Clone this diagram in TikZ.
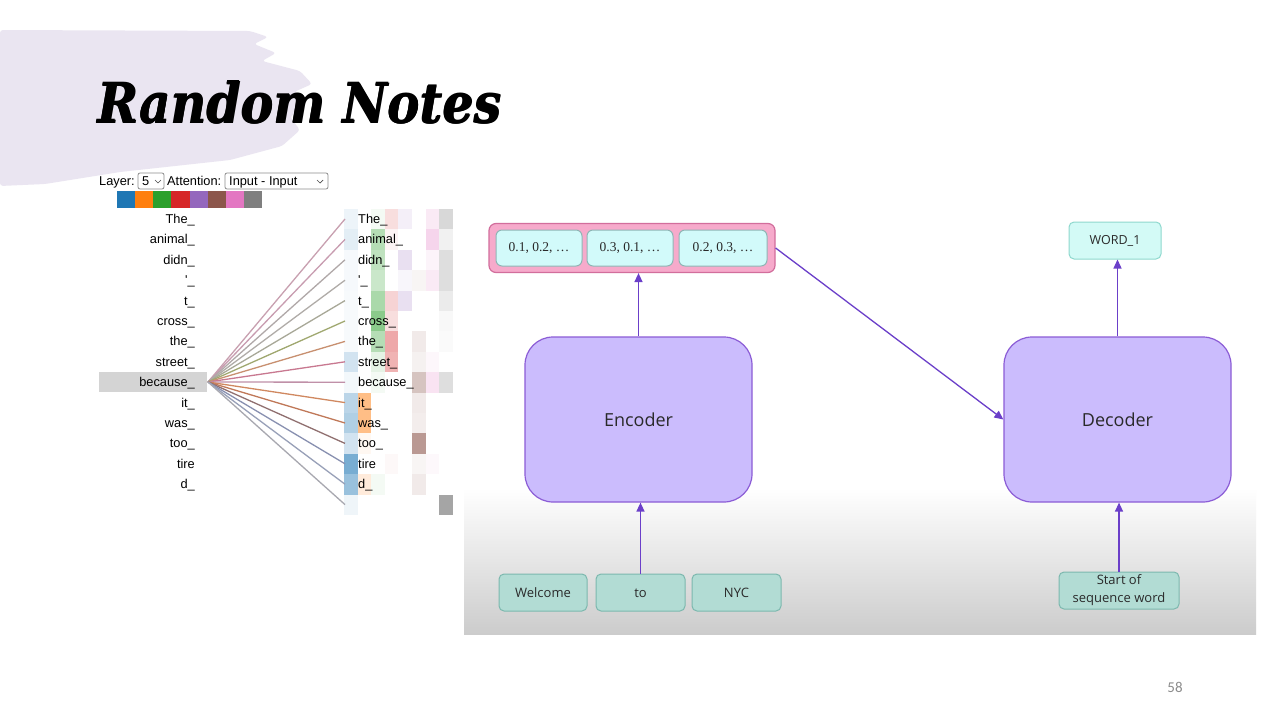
\documentclass[tikz,border=0pt]{standalone}
\usepackage{fontspec}
\usepackage{graphicx}
\setmainfont{Liberation Sans}
\newfontfamily\arialf{Liberation Sans}
\newfontfamily\humf{Open Sans}
\newfontfamily\serf{Liberation Serif}
\newfontfamily\titlef{DejaVu Serif}
\newfontfamily\pagef{Carlito}
\usetikzlibrary{arrows.meta}
\definecolor{brush}{HTML}{EAE5F1}
\definecolor{hc0}{HTML}{1F77B4}
\definecolor{hc1}{HTML}{FF7F0E}
\definecolor{hc2}{HTML}{2CA02C}
\definecolor{hc3}{HTML}{D62728}
\definecolor{hc4}{HTML}{9467BD}
\definecolor{hc5}{HTML}{8C564B}
\definecolor{hc6}{HTML}{E377C2}
\definecolor{hc7}{HTML}{7F7F7F}
\definecolor{ln0}{HTML}{C8A0B0}
\definecolor{ln1}{HTML}{C89CB0}
\definecolor{ln2}{HTML}{B0A8A8}
\definecolor{ln3}{HTML}{B0ACA8}
\definecolor{ln4}{HTML}{A8A898}
\definecolor{ln5}{HTML}{A0A870}
\definecolor{ln6}{HTML}{C89070}
\definecolor{ln7}{HTML}{C87890}
\definecolor{ln8}{HTML}{C090A8}
\definecolor{ln9}{HTML}{D08860}
\definecolor{ln10}{HTML}{C07858}
\definecolor{ln11}{HTML}{907070}
\definecolor{ln12}{HTML}{8890B0}
\definecolor{ln13}{HTML}{98A0B8}
\definecolor{ln14}{HTML}{A8A8B0}
\definecolor{encfill}{HTML}{CBBCFD}
\definecolor{encdraw}{HTML}{8B5CD6}
\definecolor{arrowc}{HTML}{6B3FC9}
\definecolor{contfill}{HTML}{F6AACB}
\definecolor{contdraw}{HTML}{D26E9C}
\definecolor{embfill}{HTML}{D2FAFA}
\definecolor{embdraw}{HTML}{8FB5B5}
\definecolor{wordfill}{HTML}{D3FAF6}
\definecolor{worddraw}{HTML}{8ED8CE}
\definecolor{infill}{HTML}{B2DCD4}
\definecolor{indraw}{HTML}{7CB8AE}
\definecolor{txtc}{HTML}{2A2A2A}
\tikzset{
  tok/.style={font=\arialf\fontsize{12.8}{14}\selectfont, inner sep=0pt, text height=9pt, text depth=0pt},
  attl/.style={line width=1.3pt},
  bigbox/.style={draw=encdraw, fill=encfill, line width=1.2pt, rounded corners=28pt,
     minimum width=227pt, minimum height=165pt, inner sep=0pt,
     font=\humf\fontsize{18}{20}\selectfont, text=txtc},
  embbox/.style={draw=embdraw, fill=embfill, line width=1pt, rounded corners=6pt,
     minimum height=36pt, inner sep=0pt, font=\serf\fontsize{13.5}{15}\selectfont, text=txtc},
  inbox/.style={draw=indraw, fill=infill, line width=1pt, rounded corners=5pt,
     minimum height=37pt, inner sep=0pt, font=\humf\fontsize{13}{15}\selectfont, text=txtc,
     align=center},
  inone/.style={inbox, text height=9.5pt, text depth=0pt},
  arr/.style={draw=arrowc, line width=1.3pt, -{Triangle[length=9pt,width=8pt]}},
  ddbox/.style={draw=black!45, fill=white, rounded corners=2pt, line width=0.8pt},
  ttl/.style={anchor=base west, inner sep=0pt},
}
\newcommand{\ttltext}{\resizebox{404pt}{42pt}{\titlef\bfseries\itshape Random Notes}}
\begin{document}
\begin{tikzpicture}[x=1pt,y=-1pt]
\useasboundingbox (0,0) rectangle (1280,720);
\fill[white] (0,0) rectangle (1280,720);
% brush stroke
\fill[brush, rounded corners=3pt] (0,30) -- (250,31) -- (268,37) -- (254,44) -- (276,53) -- (262,61)
  -- (300,71) -- (312,84) -- (294,92) -- (306,104) -- (290,117) -- (300,130) -- (282,146)
  -- (230,160) -- (120,172) -- (45,184) -- (0,186) -- cycle;
% title (emboldened by overprinting)
\node[ttl] (title) at (97,123) {\ttltext};
\node[ttl] (titleb) at (97.8,123) {\ttltext};
\node[ttl] (titlec) at (97.4,122.6) {\ttltext};

% ---------- left attention panel ----------
\node[tok, anchor=west] (layerlbl) at (99,181) {Layer:};
\draw[ddbox] (138,173) rectangle (164,189);
\node[tok, anchor=west] (layerval) at (142,181) {5};
\draw[black!70, line width=0.7pt] (155,180) -- (158,183) -- (161,180);
\node[tok, anchor=west] (attlbl) at (167,181) {Attention:};
\draw[ddbox] (225,173) rectangle (328,189);
\node[tok, anchor=west] (attval) at (229,181) {Input - Input};
\draw[black!70, line width=0.7pt] (317,180) -- (320,183) -- (323,180);
\foreach \k in {0,...,7} {
  \fill[hc\k] ({117.3+18.05*\k},190.7) rectangle ++(18.05,17);
}
% highlight
\fill[black!17] (99,372) rectangle (207,392);
% heatmap
\foreach \c/\r/\v in {
 0/0/0.08, 0/1/0.12, 0/2/0.04, 0/3/0.04, 0/4/0.03, 0/5/0.03, 0/6/0.03, 0/7/0.2, 0/8/0.05,
 0/9/0.3, 0/10/0.35, 0/11/0.2, 0/12/0.6, 0/13/0.45, 0/14/0.07,
 1/9/0.5, 1/10/0.5, 1/13/0.15, 1/11/0.05,
 2/0/0.05, 2/1/0.35, 2/2/0.3, 2/3/0.25, 2/4/0.4, 2/5/0.55, 2/6/0.35, 2/7/0.12, 2/8/0.05, 2/13/0.05,
 3/0/0.15, 3/1/0.05, 3/4/0.2, 3/5/0.15, 3/6/0.4, 3/7/0.35, 3/12/0.03,
 4/0/0.1, 4/2/0.2, 4/3/0.06, 4/4/0.2,
 5/3/0.06, 5/6/0.12, 5/7/0.08, 5/8/0.35, 5/9/0.12, 5/10/0.1, 5/11/0.6, 5/12/0.06, 5/13/0.12,
 6/0/0.15, 6/1/0.3, 6/2/0.08, 6/3/0.15, 6/7/0.06, 6/8/0.2, 6/12/0.05,
 7/0/0.3, 7/1/0.1, 7/2/0.25, 7/3/0.25, 7/4/0.15, 7/5/0.05, 7/6/0.03, 7/8/0.25, 7/14/0.7} {
  \fill[hc\c, fill opacity=\v] ({344+13.6*\c},{209+20.4*\r}) rectangle ++(13.6,20.4);
}
% tokens
\foreach \t [count=\i from 0] in {The\_, animal\_, didn\_, \textquotesingle\_, t\_, cross\_, the\_, street\_, because\_, it\_, was\_, too\_, tire, d\_} {
  \node[tok, anchor=east] (L\i) at (195,{219+20.4*\i}) {\t};
  \node[tok, anchor=west] (R\i) at (358,{219+20.4*\i}) {\t};
}
\coordinate (src) at (208,382);
\foreach \i in {0,...,14} {
  \coordinate (T\i) at (345,{219+20.4*\i});
  \draw[attl, ln\i] (src) -- (T\i);
}

% ---------- right panel ----------
\shade[top color=white, bottom color=black!20] (464,488) rectangle (1256,634);
\node[draw=contdraw, fill=contfill, line width=1.2pt, rounded corners=7pt,
  minimum width=286pt, minimum height=49pt, inner sep=0pt] (cont) at (632,248) {};
\node[embbox, minimum width=86pt] (e1) at (539,248) {0.1, 0.2, \dots};
\node[embbox, minimum width=86pt] (e2) at (630,248) {0.3, 0.1, \dots};
\node[embbox, minimum width=88pt] (e3) at (723,248) {0.2, 0.3, \dots};

\node[bigbox] (enc) at (638.5,419.5) {Encoder};
\node[bigbox] (dec) at (1117.5,419.5) {Decoder};

\node[draw=worddraw, fill=wordfill, line width=1pt, rounded corners=5pt,
  minimum width=92pt, minimum height=37pt, inner sep=0pt,
  font=\humf\fontsize{12.5}{14}\selectfont, text=txtc] (word) at (1115,240.5) {WORD\_1};

\node[inone, minimum width=88pt] (in1) at (543,592.5) {Welcome};
\node[inone, minimum width=89pt] (in2) at (640.5,592.5) {to};
\node[inone, minimum width=89pt] (in3) at (736.5,592.5) {NYC};
\node[inbox, minimum width=120pt, font=\humf\fontsize{13}{18}\selectfont] (start) at (1119,590.5) {Start of\\sequence word};

\draw[arr] (enc.north) -- (enc.north |- cont.south);
\draw[arr] (cont.east) -- (dec.west);
\draw[arr] (dec.north) -- (dec.north |- word.south);
\draw[arr] (in2.north) -- (in2.north |- enc.south);
\draw[arr] (start.north) -- (start.north |- dec.south);

\node[font=\pagef\fontsize{15}{17}\selectfont, text=black!45, inner sep=0pt] (pg) at (1175,687) {58};
\end{tikzpicture}
\end{document}
